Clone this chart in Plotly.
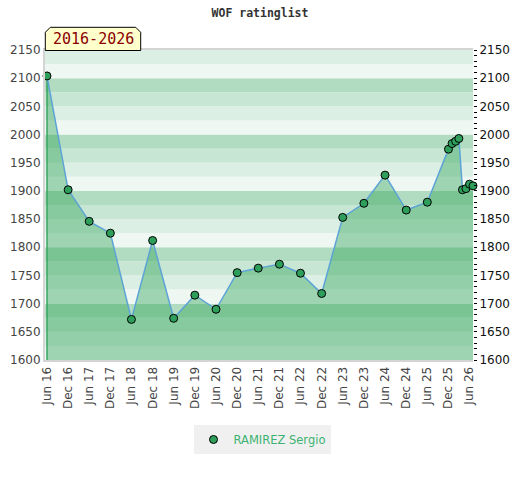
# -*- coding: UTF-8 -*-
import plotly.graph_objects as go

# rating lists (semi-annual, then monthly at the end)
dates = ['2016-06-01', '2016-12-01', '2017-06-01', '2017-12-01', '2018-06-01',
         '2018-12-01', '2019-06-01', '2019-12-01', '2020-06-01', '2020-12-01',
         '2021-06-01', '2021-12-01', '2022-06-01', '2022-12-01', '2023-06-01',
         '2023-12-01', '2024-06-01', '2024-12-01', '2025-06-01', '2025-12-01',
         '2026-01-01', '2026-02-01', '2026-03-01', '2026-04-01', '2026-05-01',
         '2026-06-01', '2026-07-01']
ratings = [2104, 1902, 1846, 1825, 1672, 1812, 1674, 1715, 1690, 1755,
           1763, 1770, 1754, 1718, 1853, 1878, 1928, 1866, 1880, 1974,
           1984, 1988, 1993, 1902, 1904, 1912, 1909]

tick_dates = ['2016-06-01', '2016-12-01', '2017-06-01', '2017-12-01', '2018-06-01',
              '2018-12-01', '2019-06-01', '2019-12-01', '2020-06-01', '2020-12-01',
              '2021-06-01', '2021-12-01', '2022-06-01', '2022-12-01', '2023-06-01',
              '2023-12-01', '2024-06-01', '2024-12-01', '2025-06-01', '2025-12-01',
              '2026-06-01']
tick_labels = ['Jun 16', 'Dec 16', 'Jun 17', 'Dec 17', 'Jun 18', 'Dec 18', 'Jun 19',
               'Dec 19', 'Jun 20', 'Dec 20', 'Jun 21', 'Dec 21', 'Jun 22', 'Dec 22',
               'Jun 23', 'Dec 23', 'Jun 24', 'Dec 24', 'Jun 25', 'Dec 25', 'Jun 26']

player = 'RAMIREZ Sergio'
period = '2016-2026'

y_min, y_max = 1600, 2150
band_colors = ['#eff7f2', '#dcefe4', '#c8e6d4', '#b2dcc2']  # lightest -> darkest, 25 pts each

W, H = 520, 480
ml, mr, mt, mb = 45, 47, 50, 120
pw, ph = W - ml - mr, H - mt - mb


def px(x):
    return (x - ml) / pw


def py(y):
    return (H - mb - y) / ph


fig = go.Figure()

fig.add_trace(go.Scatter(
    x=dates, y=ratings, name=player, mode='lines+markers',
    fill='tozeroy', fillcolor='rgba(38,160,79,0.4)',
    line=dict(color='#5ca3d6', width=1.5),
    marker=dict(size=8, color='#2e9e5b', line=dict(color='black', width=1)),
    cliponaxis=False, showlegend=False,
))
# legend entry: marker only
fig.add_trace(go.Scatter(x=[None], y=[None], name=player, mode='markers',
                         marker=dict(size=8, color='#2e9e5b', line=dict(color='black', width=1))))
# dummy trace so the right axis gets drawn
fig.add_trace(go.Scatter(x=[dates[0]], y=[y_min], yaxis='y2', mode='markers',
                         marker=dict(opacity=0), showlegend=False, hoverinfo='skip'))

shapes = []
v = y_min
while v < y_max:
    shapes.append(dict(type='rect', xref='paper', yref='y', x0=0, x1=1, y0=v, y1=v + 25,
                       fillcolor=band_colors[(v // 25) % 4], line=dict(width=0), layer='below'))
    v += 25

# green edge of the filled area at the first point
shapes.append(dict(type='line', xref='x', yref='y', x0=dates[0], x1=dates[0],
                   y0=y_min, y1=ratings[0], line=dict(color='#3ea866', width=1.5), layer='below'))

# label box with bevelled top corners
bx0, bx1, by0, by1, bev = 45.3, 140.7, 27.3, 50.5, 5
path = 'M {} {} L {} {} L {} {} L {} {} L {} {} L {} {} Z'.format(
    px(bx0), py(by1), px(bx0), py(by0 + bev), px(bx0 + bev), py(by0),
    px(bx1 - bev), py(by0), px(bx1), py(by0 + bev), px(bx1), py(by1))
shapes.append(dict(type='path', xref='paper', yref='paper', path=path,
                   fillcolor='#ffffcc', line=dict(color='black', width=1), layer='above'))

fig.update_layout(
    width=W, height=H,
    margin=dict(l=ml, r=mr, t=mt, b=mb, autoexpand=False),
    paper_bgcolor='white', plot_bgcolor='white',
    title=dict(text='WOF ratinglist', x=0.5, xanchor='center', y=1 - 13 / H, yanchor='middle',
               font=dict(family='DejaVu Sans Mono', size=11.5, color='#333333', weight='bold')),
    shapes=shapes,
    annotations=[dict(text=period, xref='paper', yref='paper', x=px(93), y=py(39.5),
                      xanchor='center', yanchor='middle', showarrow=False,
                      font=dict(family='DejaVu Sans Mono', size=15, color='#8b0000'))],
    xaxis=dict(type='date', range=['2016-05-15', '2026-07-01'], automargin=False,
               tickvals=tick_dates, ticktext=tick_labels, tickangle=-90,
               tickfont=dict(family='DejaVu Sans', size=12, color='#444444'),
               showgrid=False, showline=True, linecolor='#d4d4d4', linewidth=2,
               mirror=True, ticks=''),
    yaxis=dict(range=[y_min, y_max], dtick=50, showgrid=False, zeroline=False, automargin=False,
               showline=True, linecolor='#d4d4d4', linewidth=2,
               tickfont=dict(family='DejaVu Sans', size=12, color='#444444'), ticks=''),
    yaxis2=dict(range=[y_min, y_max], dtick=50, overlaying='y', side='right', automargin=False,
                showgrid=False, zeroline=False, showline=False,
                ticks='outside', ticklen=3, tickcolor='black',
                minor=dict(dtick=10, ticks='outside', ticklen=3, tickcolor='black'),
                tickfont=dict(family='DejaVu Sans', size=12, color='#111111')),
    showlegend=True,
    legend=dict(orientation='h', x=px(262), xanchor='center', y=py(425), yanchor='top',
                itemwidth=30, bgcolor='#f0f0f0',
                font=dict(family='DejaVu Sans', size=11.5, color='#3cb371')),
)

fig.write_html('out.html', config={'displayModeBar': False},
               post_script="document.body.style.margin='0';")
